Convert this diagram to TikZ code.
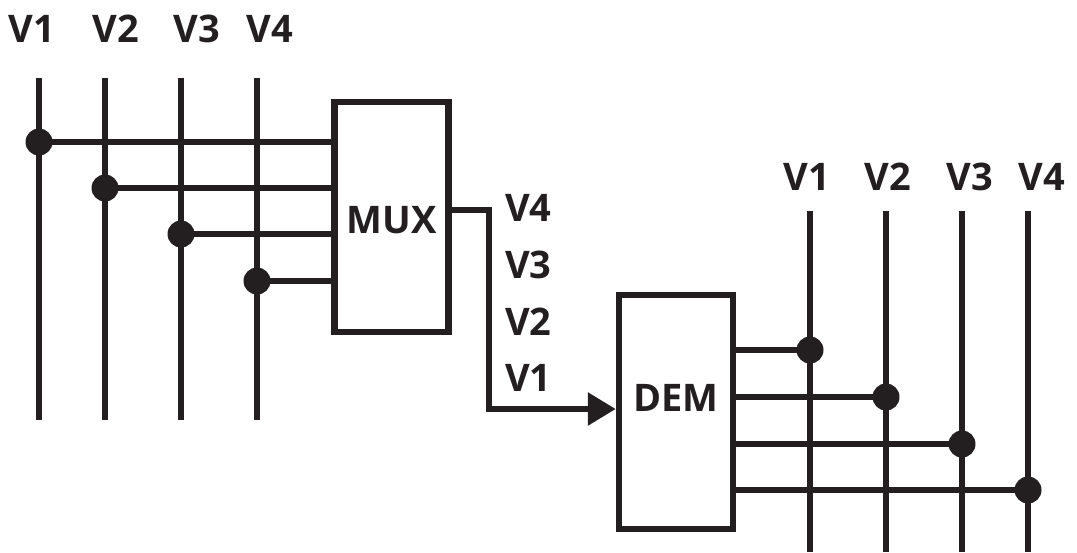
\documentclass[tikz,border=0pt]{standalone}
\usepackage{fontspec}
\setmainfont{Open Sans}
\usetikzlibrary{arrows.meta}
\definecolor{ink}{HTML}{231F20}
\newcommand{\sigfont}{\fontsize{38}{38}\selectfont\bfseries}
\tikzset{
  wire/.style={draw=ink, line width=6pt},
  blockbox/.style={draw=ink, line width=6.5pt, inner sep=0pt, minimum width=114pt},
  sig/.style={inner sep=0pt, text=ink, font=\sigfont},
  joint/.style={fill=ink}
}
\begin{document}
\begin{tikzpicture}[x=1pt,y=-1pt]
\useasboundingbox (0,0) rectangle (1077,552);
% blocks
\node[blockbox, minimum height=230pt] (mux) at (391.5,217) {};
\node[blockbox, minimum height=234pt] (dem) at (676,412) {};
\node[sig] (muxname) at ([yshift=-3pt]mux.center) {MUX};
\node[sig] (demname) at ([yshift=14pt]dem.center) {DEM};
% input wires
\foreach \i/\x/\y/\lx in {1/39/142/32, 2/105/188/116, 3/181/234/197, 4/257/281/270} {
  \coordinate (intop\i) at (\x,78);
  \coordinate (inbot\i) at (\x,420);
  \coordinate (injoint\i) at (\x,\y);
  \draw[wire] (intop\i) -- (inbot\i);
  \draw[wire] (injoint\i) -- (injoint\i -| mux.west);
  \fill[joint] (injoint\i) circle (13.5pt);
  \node[sig] (inlabel\i) at (\lx,29) {V\i};
}
% link
\coordinate (bendtop) at (489,210);
\coordinate (bendbot) at (489,409);
\draw[wire, -{Triangle[length=28pt,width=32pt]}] (mux.east |- bendtop) -- (bendtop) -- (bendbot) -- (bendbot -| dem.west);
\foreach \i/\y in {4/208, 3/265, 2/322, 1/378}
  \node[sig, anchor=west] (linklabel\i) at (505,\y) {V\i};
% output wires
\foreach \i/\x/\y/\lx in {1/810/350/807, 2/886/397/888, 3/962/444/970, 4/1028/490/1042} {
  \coordinate (outtop\i) at (\x,211);
  \coordinate (outbot\i) at (\x,552);
  \coordinate (outjoint\i) at (\x,\y);
  \draw[wire] (outtop\i) -- (outbot\i);
  \draw[wire] (outjoint\i -| dem.east) -- (outjoint\i);
  \fill[joint] (outjoint\i) circle (13.5pt);
  \node[sig] (outlabel\i) at (\lx,177) {V\i};
}
\end{tikzpicture}
\end{document}
